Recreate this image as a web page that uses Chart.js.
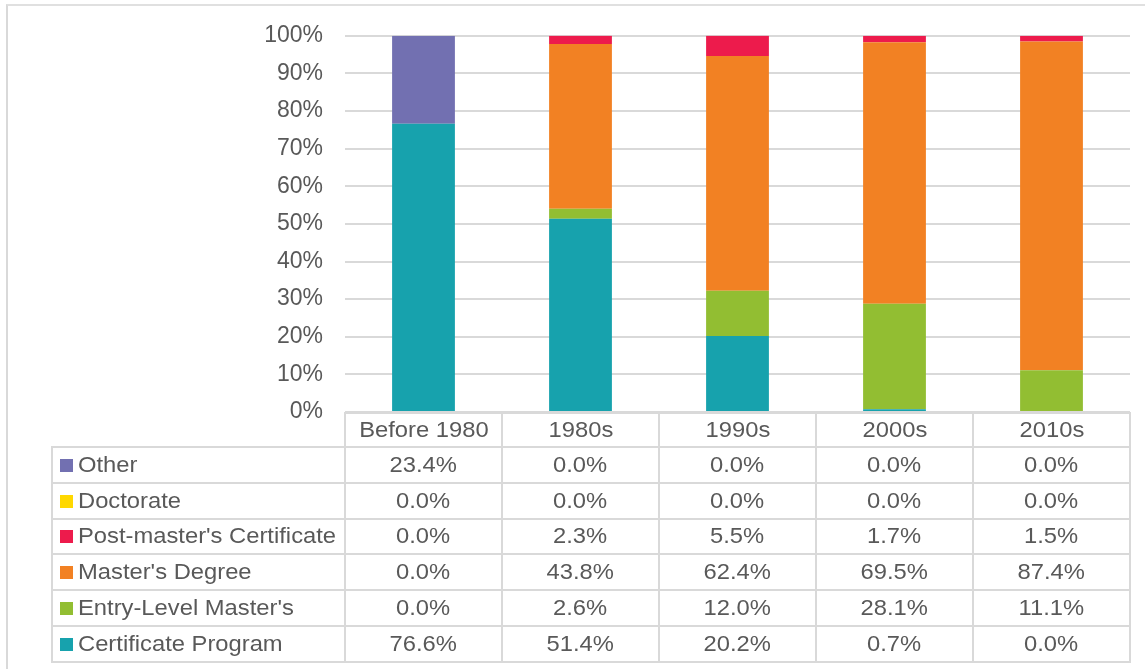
<!DOCTYPE html>
<html>
<head>
<meta charset="utf-8">
<script src="https://cdn.jsdelivr.net/npm/chart.js@4.4.1/dist/chart.umd.min.js"></script>
<style>
  body { margin: 0; background: #fff; font-family: "Liberation Sans", Arial, sans-serif; }
  #wrap { position: relative; width: 1145px; height: 669px; overflow: hidden; }
  #frame { position: absolute; left: 6px; top: 4px; right: -10px; bottom: -10px;
           border-left: 2px solid #d9d9d9; border-top: 2px solid #e0e0e0; }
  #chart { position: absolute; left: 0; top: 0; }
  #dataTable { position: absolute; border-collapse: collapse; table-layout: fixed;
               color: #595959; font-size: 22px; }
  #dataTable td { border: 2px solid #d9d9d9; padding: 0; text-align: center;
                  white-space: nowrap; overflow: hidden; }
  #dataTable td.blank { border-top: none; border-left: none; }
  #dataTable td.label { text-align: left; }
  .txt { display: inline-block; transform: scaleX(1.08); transform-origin: center; }
  .label .txt { transform-origin: left; }
  .key { display: inline-block; width: 13px; height: 13px; margin: 0 5px 0 7px; }
</style>
</head>
<body>
<div id="wrap">
  <div id="frame"></div>
  <canvas id="chart" width="1145" height="669"></canvas>
  <table id="dataTable"></table>
</div>
<script>
// values are percent of each period, stacked bottom to top
const categories = ['Before 1980', '1980s', '1990s', '2000s', '2010s'];
const certificateProgram = [76.6, 51.4, 20.2, 0.7, 0.0];
const entryLevelMasters = [0.0, 2.6, 12.0, 28.1, 11.1];
const mastersDegree = [0.0, 43.8, 62.4, 69.5, 87.4];
const postMastersCertificate = [0.0, 2.3, 5.5, 1.7, 1.5];
const doctorate = [0.0, 0.0, 0.0, 0.0, 0.0];
const other = [23.4, 0.0, 0.0, 0.0, 0.0];

const series = [
    { label: 'Certificate Program', data: certificateProgram, color: '#17A2AD' },
    { label: "Entry-Level Master's", data: entryLevelMasters, color: '#92BE32' },
    { label: "Master's Degree", data: mastersDegree, color: '#F28123' },
    { label: "Post-master's Certificate", data: postMastersCertificate, color: '#ED1B4C' },
    { label: 'Doctorate', data: doctorate, color: '#FFD800' },
    { label: 'Other', data: other, color: '#7270B1' }
];

Chart.defaults.font.family = '"Liberation Sans", Arial, sans-serif';
Chart.defaults.font.size = 23;
Chart.defaults.color = '#595959';

const ctx = document.getElementById('chart').getContext('2d');

const chart = new Chart(ctx, {
    type: 'bar',
    data: {
        labels: categories,
        datasets: series.map(s => ({
            label: s.label,
            data: s.data,
            backgroundColor: s.color,
            borderWidth: 0,
            barPercentage: 0.4,
            categoryPercentage: 1.0
        }))
    },
    options: {
        responsive: false,
        animation: false,
        layout: { padding: { left: 0, right: 15, top: 31, bottom: 257 } },
        plugins: {
            legend: { display: false },
            tooltip: { enabled: false }
        },
        scales: {
            x: { stacked: true, display: false },
            y: {
                stacked: true,
                min: 0,
                max: 100,
                afterFit: (scale) => { scale.width = 345; },
                border: { display: false },
                grid: { color: '#d9d9d9', lineWidth: 2, drawTicks: false },
                ticks: {
                    stepSize: 10,
                    padding: 22,
                    callback: (v) => v + '%'
                }
            }
        }
    }
});

// data table under the plot, columns lined up with the x scale
function buildTable() {
    const area = chart.chartArea;
    const colW = (area.right - area.left) / categories.length;
    const tableLeft = 52;
    const table = document.getElementById('dataTable');
    table.style.left = (tableLeft - 1) + 'px';
    table.style.top = '412px';
    table.style.width = (area.right - tableLeft + 2) + 'px';

    let html = '<colgroup><col style="width:' + (area.left - tableLeft) + 'px">';
    categories.forEach(() => { html += '<col style="width:' + colW + 'px">'; });
    html += '</colgroup>';

    html += '<tr style="height:34px"><td class="blank"></td>';
    categories.forEach(c => { html += '<td><span class="txt">' + c + '</span></td>'; });
    html += '</tr>';

    series.slice().reverse().forEach(s => {
        html += '<tr style="height:35.8px"><td class="label"><span class="key" style="background:' +
            s.color + '"></span><span class="txt">' + s.label + '</span></td>';
        s.data.forEach(v => { html += '<td><span class="txt">' + v.toFixed(1) + '%</span></td>'; });
        html += '</tr>';
    });
    table.innerHTML = html;
}

buildTable();
</script>
</body>
</html>
